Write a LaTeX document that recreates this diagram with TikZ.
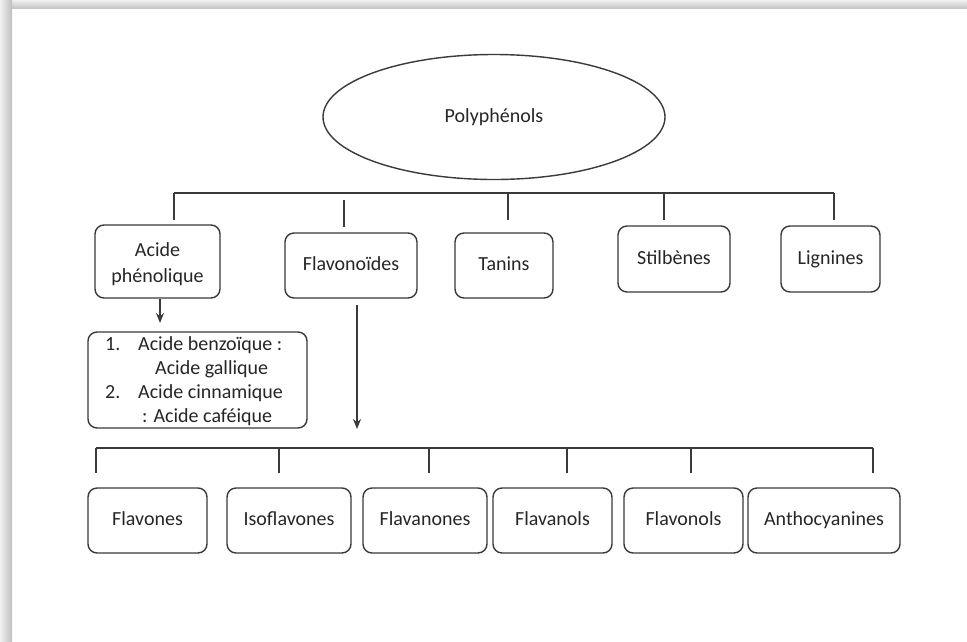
\documentclass[tikz,border=0pt]{standalone}
\usepackage{fontspec}
\setmainfont{Carlito}
\usetikzlibrary{shapes.geometric,arrows.meta}
\definecolor{linec}{HTML}{3A3A3A}
\definecolor{txt}{HTML}{262626}
\begin{document}
\begin{tikzpicture}[x=1pt,y=-1pt,
  box/.style={draw=linec, line width=1.4pt, rounded corners=9pt, inner sep=0pt,
    font=\fontsize{20}{27}\selectfont, text=txt, align=center},
  onel/.style={box, text height=14pt, text depth=4pt},
  listtxt/.style={font=\fontsize{20}{24}\selectfont, text=txt, inner sep=0pt, anchor=mid west},
  conn/.style={draw=linec, line width=1.8pt},
  arr/.style={conn, -{Stealth[length=10pt,width=8pt]}}]
\useasboundingbox (0,0) rectangle (967,641);
\fill[white] (0,0) rectangle (967,641);
% frame shadow
\shade[top color=gray!12, bottom color=gray!45] (0,0) rectangle (967,8);
\shade[left color=gray!12, right color=gray!50] (0,0) rectangle (12,641);

% nodes
\node[draw=linec, line width=1.4pt, ellipse, minimum width=342, minimum height=125, inner sep=0pt,
  font=\fontsize{20}{24}\selectfont, text=txt, text height=14pt, text depth=4pt] (poly) at (494,117) {Polyphénols};

\node[box, minimum width=125, minimum height=73] (acide) at (157.5,261.5) {};
\node[font=\fontsize{20}{24}\selectfont, text=txt, inner sep=0pt] (acide1) at (157.5,250) {Acide};
\node[font=\fontsize{20}{24}\selectfont, text=txt, inner sep=0pt, text height=14pt, text depth=4pt] (acide2) at (157.5,277) {phénolique};
\node[onel, minimum width=132, minimum height=65] (flavo) at (351,265.5) {Flavonoïdes};
\node[onel, minimum width=98, minimum height=65] (tanins) at (504,265.5) {Tanins};
\node[onel, minimum width=112, minimum height=66] (stil) at (674,259) {Stilbènes};
\node[onel, minimum width=99, minimum height=66] (lign) at (830.5,259) {Lignines};

\node[box, minimum width=219, minimum height=96] (list) at (197.5,380) {};
\node[listtxt] (l1n) at (105,348) {1.};
\node[listtxt] (l1) at (138,348) {Acide benzoïque :};
\node[listtxt] (l2) at (155,372) {Acide gallique};
\node[listtxt] (l3n) at (105,396) {2.};
\node[listtxt] (l3) at (138,396) {Acide cinnamique};
\node[listtxt] (l4) at (142,420) {: Acide caféique};

\node[onel, minimum width=119, minimum height=65] (b1) at (147.5,520.5) {Flavones};
\node[onel, minimum width=124, minimum height=65] (b2) at (289,520.5) {Isoflavones};
\node[onel, minimum width=124, minimum height=65] (b3) at (425,520.5) {Flavanones};
\node[onel, minimum width=119, minimum height=65] (b4) at (552.5,520.5) {Flavanols};
\node[onel, minimum width=119, minimum height=65] (b5) at (683.5,520.5) {Flavonols};
\node[onel, minimum width=152, minimum height=65] (b6) at (824,520.5) {Anthocyanines};

% top connectors
\coordinate (t1) at (174,193);
\coordinate (t5) at (834,193);
\coordinate (t3) at (508,193);
\coordinate (t4) at (664,193);
\coordinate (d1) at (174,220);
\coordinate (d2a) at (344,200);
\coordinate (d2) at (344,227);
\coordinate (d3) at (508,220);
\coordinate (d4) at (664,220);
\coordinate (d5) at (834,220);
\draw[conn] (t1) -- (t5);
\draw[conn] (t1) -- (d1);
\draw[conn] (d2a) -- (d2);
\draw[conn] (t3) -- (d3);
\draw[conn] (t4) -- (d4);
\draw[conn] (t5) -- (d5);

% arrows
\coordinate (a1s) at (160,299);
\coordinate (a1e) at (160,323);
\draw[arr] (a1s) -- (a1e);
\coordinate (a2s) at (357,305);
\coordinate (a2e) at (357,429);
\draw[arr] (a2s) -- (a2e);

% bottom connectors
\coordinate (u1) at (96,448);
\coordinate (u2) at (279,448);
\coordinate (u3) at (429,448);
\coordinate (u4) at (567,448);
\coordinate (u5) at (691,448);
\coordinate (u6) at (873,448);
\coordinate (v1) at (96,473);
\coordinate (v2) at (279,473);
\coordinate (v3) at (429,473);
\coordinate (v4) at (567,473);
\coordinate (v5) at (691,473);
\coordinate (v6) at (873,473);
\draw[conn] (u1) -- (u6);
\foreach \i in {1,...,6} {\draw[conn] (u\i) -- (v\i);}
\end{tikzpicture}
\end{document}
